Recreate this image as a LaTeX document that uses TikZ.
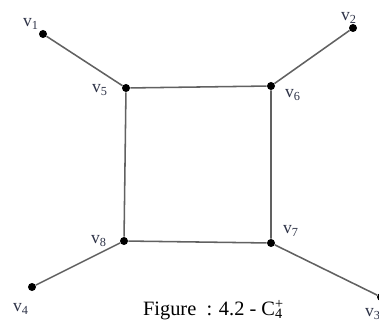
\documentclass[tikz,border=0pt]{standalone}
\usepackage{fontspec}
\setmainfont{Liberation Serif}
\definecolor{EdgeGray}{rgb}{0.38, 0.38, 0.38}
\definecolor{LabelInk}{rgb}{0.18, 0.20, 0.28}
\tikzset{
  dot/.style={circle, fill=black, inner sep=0pt, minimum size=0.2cm},
  edge/.style={EdgeGray, line width=1.1pt},
  vlabel/.style={LabelInk, inner sep=0pt, font=\fontsize{12.5}{14}\selectfont}
}

\begin{document}
\begin{tikzpicture}[x=0.025cm, y=-0.025cm]

  % -------------------------------------------------------
  % Frame (pixel units, origin top-left)
  % -------------------------------------------------------
  \useasboundingbox (0,0) rectangle (379,320);

  % --- Square C4: v5, v6, v7, v8 ---
  \node[dot] (v5) at (126, 88) {};
  \node[dot] (v6) at (271, 86) {};
  \node[dot] (v7) at (271, 243) {};
  \node[dot] (v8) at (124, 241) {};

  % --- Pendant vertices ---
  \node[dot] (v1) at (43, 34) {};
  \node[dot] (v2) at (353, 28) {};
  \node[dot] (v3) at (381, 297) {};   % cut by the right edge
  \node[dot] (v4) at (32, 287) {};

  % Edges of the cycle
  \draw[edge] (v5) -- (v6) -- (v7) -- (v8) -- (v5);
  % Pendant edges
  \draw[edge] (v1) -- (v5);
  \draw[edge] (v2) -- (v6);
  \draw[edge] (v3) -- (v7);
  \draw[edge] (v4) -- (v8);

  % Vertex labels
  \node[vlabel] (l1) at (31, 24) {v\textsubscript{1}};
  \node[vlabel] (l2) at (349, 18) {v\textsubscript{2}};
  \node[vlabel] (l3) at (373, 314) {v\textsubscript{3}};
  \node[vlabel] (l4) at (21, 309) {v\textsubscript{4}};
  \node[vlabel] (l5) at (100, 90) {v\textsubscript{5}};
  \node[vlabel] (l6) at (293, 95) {v\textsubscript{6}};
  \node[vlabel] (l7) at (291, 231) {v\textsubscript{7}};
  \node[vlabel] (l8) at (99, 241) {v\textsubscript{8}};

  % Caption
  \node[inner sep=0pt, font=\fontsize{14.5}{16}\selectfont] (caption) at (213, 310)
    {Figure \ : 4.2 - C\rlap{\textsuperscript{+}}\textsubscript{4}};

\end{tikzpicture}
\end{document}
